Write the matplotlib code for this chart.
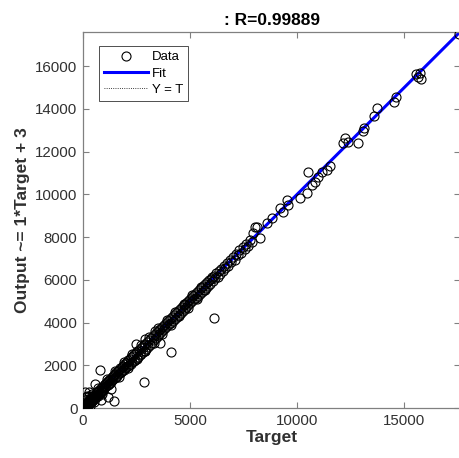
import matplotlib.pyplot as plt

# Puntos densos (Target, Output)
target_denso = [5, 12, 20, 28, 35, 44, 50, 58, 66, 75, 83, 90, 100, 110, 118, 125, 134, 142, 150, 160,
                170, 178, 188, 196, 205, 215, 225, 236, 245, 255, 268, 280, 290, 305, 318, 330, 345, 360, 372, 388,
                400, 415, 432, 448, 462, 480, 495, 512, 530, 548, 565, 585, 602, 620, 640, 660, 680, 700, 720, 742,
                765, 785, 808, 830, 852, 875, 900, 922, 945, 970, 990,
                1015, 1040, 1068, 1095, 1120, 1148, 1175, 1200, 1228, 1255, 1282, 1310, 1338, 1365, 1392, 1420,
                1450, 1478, 1505, 1535, 1562, 1590, 1620, 1650, 1680, 1710, 1740, 1770, 1800, 1830, 1862, 1895,
                1925, 1958, 1990, 2022, 2055, 2088, 2120, 2155, 2190, 2225, 2260, 2295, 2330, 2365, 2400, 2435,
                2470, 2505, 2540, 2578, 2615, 2650, 2688, 2725, 2762, 2800, 2838, 2875, 2912, 2950, 2990,
                3030, 3075, 3120, 3165, 3210, 3255, 3300, 3345, 3390, 3435, 3480, 3525, 3570, 3615, 3660, 3705,
                3750, 3795, 3840, 3885, 3930, 3975, 4020, 4065, 4110, 4155, 4200, 4245, 4290, 4335, 4380, 4425,
                4470, 4515, 4560, 4605, 4650, 4695, 4740, 4785, 4830, 4875, 4920, 4965, 5010, 5055, 5100, 5145,
                5190, 5235, 5280, 5325, 5370, 5415, 5460, 5505, 5550, 5595, 5640, 5685, 5730, 5775, 5820, 5865,
                5910, 5955,
                6010, 6060, 6110, 6170, 6220, 6280, 6340, 6400, 6460, 6520, 6580, 6650, 6720, 6790, 6860, 6930,
                7010, 7080, 7150, 7230, 7300, 7380, 7450, 7540, 7620, 7720, 7800, 7900, 7940, 8040, 8130, 8270]
output_denso = [40, -20, 60, 10, -30, 90, 20, -10, 120, 30, 70, -40, 150, 60, 20, 180, 90, 40, 200, 110,
                60, 230, 150, 100, 260, 170, 130, 300, 200, 160, 330, 240, 190, 360, 270, 240, 410, 300, 270, 450,
                350, 320, 500, 400, 370, 560, 450, 420, 620, 500, 470, 680, 560, 520, 730, 610, 580, 800, 660, 640,
                860, 720, 700, 920, 790, 760, 990, 850, 830, 1060, 920,
                1120, 960, 1150, 1020, 1210, 1080, 1260, 1130, 1330, 1190, 1380, 1240, 1440, 1300, 1490, 1350,
                1560, 1400, 1610, 1460, 1680, 1510, 1730, 1570, 1800, 1620, 1850, 1680, 1920, 1730, 1980, 1790,
                2050, 1850, 2110, 1900, 2170, 1960, 2240, 2020, 2300, 2080, 2370, 2140, 2440, 2200, 2510, 2270,
                2580, 2330, 2650, 2400, 2720, 2470, 2790, 2540, 2860, 2610, 2940, 2680, 3010, 2750, 3080,
                2850, 3180, 2960, 3270, 3060, 3360, 3160, 3450, 3260, 3540, 3360, 3630, 3450, 3720, 3550, 3810,
                3640, 3900, 3730, 3990, 3820, 4080, 3910, 4170, 4000, 4260, 4090, 4350, 4180, 4440, 4270, 4530,
                4360, 4620, 4450, 4710, 4540, 4800, 4630, 4890, 4720, 4980, 4810, 5070, 4900, 5160, 4990, 5250,
                5080, 5340, 5170, 5430, 5260, 5520, 5350, 5610, 5440, 5700, 5530, 5790, 5620, 5880, 5710, 5970,
                5800, 6060,
                6120, 5950, 6200, 6080, 6300, 6150, 6420, 6260, 6520, 6400, 6640, 6540, 6780, 6660, 6920, 6850,
                7060, 6950, 7230, 7150, 7380, 7260, 7520, 7460, 7700, 7600, 7880, 7780, 8190, 8470, 8470, 7960]

# Puntos del borde de la banda (mas alejados de la recta)
target_borde = [30, 50, 150, 200, 300, 350, 400, 520, 700, 900, 1100, 1300, 1500, 1700, 1900, 2100,
                2300, 2500, 2700, 2900, 3100, 3300, 3500, 3700, 3900, 4100, 4300, 4500, 4700, 4900,
                5100, 5300, 5500, 5700]
output_borde = [250, 400, 500, 550, 560, 100, 650, 290, 930, 660, 1340, 880, 1720, 1470, 2130, 1870,
                2540, 2280, 2940, 2660, 3330, 3060, 3730, 3470, 4110, 3880, 4510, 4290, 4890, 4700,
                5290, 5110, 5680, 5520]

# Puntos dispersos y atipicos
target_disperso = [100, 280, 560, 800, 840, 1170, 1450, 2480, 2850, 2900, 3360, 3600, 4110, 6120,
                   8600, 8830, 9200, 9350, 9530, 9580, 10140, 10470, 10510, 10700, 10840, 10980, 11170, 11400, 11540,
                   12150, 12240, 12350, 12850, 13080, 13130, 13600, 13740, 14530, 14630,
                   15550, 15650, 15750, 15800, 17570]
output_disperso = [750, 750, 1120, 1780, 370, 520, 330, 3000, 1220, 3230, 3600, 3040, 2620, 4210,
                   8660, 8900, 9360, 9180, 9740, 9500, 9830, 10070, 11050, 10440, 10580, 10810, 11050, 11140, 11330,
                   12400, 12640, 12450, 12400, 12970, 13110, 13670, 14040, 14330, 14560,
                   15650, 15500, 15700, 15400, 17500]

target = target_denso + target_borde + target_disperso
output = output_denso + output_borde + output_disperso

# Ajuste lineal
pendiente, intercepto = 1, 3
R = 0.99889
lim = 17600

xticks = [0, 5000, 10000, 15000]
yticks = [0, 2000, 4000, 6000, 8000, 10000, 12000, 14000, 16000]

plt.rcParams['font.family'] = ['Liberation Sans', 'DejaVu Sans']
gris_eje = '#808080'
gris_texto = '#303030'

fig = plt.figure(figsize=(4.59, 4.58), dpi=100)
ax = fig.add_axes([83/459, 50/458, 377/459, 376/458])

t_min, t_max = min(target), max(target)
ax.plot([0, lim], [0, lim], ':', color='k', lw=0.6, label='Y = T', zorder=1)
ax.plot([t_min, t_max], [pendiente*t_min + intercepto, pendiente*t_max + intercepto],
        '-', color='#0000ff', lw=2.2, label='Fit', zorder=2)
ax.plot(target, output, 'o', mfc='none', mec='k', ms=6.5, mew=0.8, label='Data', zorder=3)

ax.set_xlim(0, lim)
ax.set_ylim(0, lim)
ax.set_xticks(xticks)
ax.set_yticks(yticks)
ax.tick_params(direction='in', length=4, width=0.8, colors=gris_eje, labelcolor=gris_texto,
               labelsize=10.8, top=True, right=True, pad=4)
for s in ax.spines.values():
    s.set_color(gris_eje)
    s.set_linewidth(0.9)

ax.set_title(f': R={R}', fontsize=12.5, fontweight='bold', color='k', pad=5)
ax.set_xlabel('Target', fontsize=12.5, fontweight='bold', color=gris_texto, labelpad=2)
ax.set_ylabel(f'Output ~= {pendiente}*Target + {intercepto}', fontsize=12.5, fontweight='bold',
              color=gris_texto, labelpad=4)

h, l = ax.get_legend_handles_labels()
orden = [2, 1, 0]
leg = ax.legend([h[i] for i in orden], [l[i] for i in orden], loc='upper left',
                bbox_to_anchor=(0.042, 0.963), fontsize=9.5, frameon=True, fancybox=False,
                edgecolor='k', handlelength=3.3, handletextpad=0.3, borderpad=0.4,
                labelspacing=0.3, borderaxespad=0)
leg.get_frame().set_linewidth(0.6)

plt.savefig('out.png', dpi=100)
